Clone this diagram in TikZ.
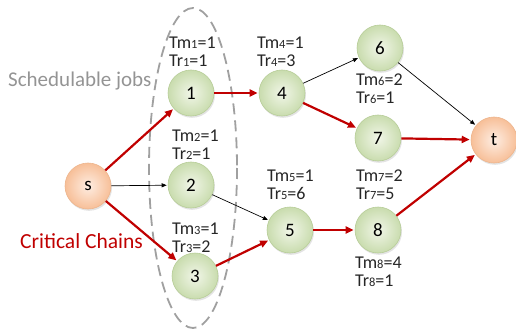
\documentclass[tikz,border=0pt]{standalone}
\usepackage{fontspec}
\setmainfont{Carlito}
\usetikzlibrary{arrows.meta,shadows}
\definecolor{crit}{HTML}{C00000}
\definecolor{ellgray}{HTML}{A0A0A0}
\definecolor{jobin}{HTML}{F1F6E8}
\definecolor{jobout}{HTML}{C9DCAE}
\definecolor{jobline}{HTML}{B7CD98}
\definecolor{endin}{HTML}{FEEDE2}
\definecolor{endout}{HTML}{F7BF98}
\definecolor{endline}{HTML}{EDB58D}
\newcommand{\ix}[1]{{\fontsize{12.5}{13}\selectfont #1}}
\tikzset{
  x=1pt, y=-1pt,
  basecirc/.style={circle, minimum size=46pt, inner sep=0pt, line width=0.6pt,
    font=\fontsize{19}{19}\selectfont,
    drop shadow={opacity=0.22, shadow xshift=1pt, shadow yshift=-1.8pt}},
  job/.style={basecirc, draw=jobline, shading=radial, inner color=jobin, outer color=jobout},
  endpt/.style={basecirc, draw=endline, shading=radial, inner color=endin, outer color=endout},
  crit/.style={draw=crit, line width=2.2pt, -{Triangle[length=8pt,width=7pt]}, shorten >=1pt},
  plain/.style={draw=black, line width=0.7pt, -{Triangle[length=5pt,width=4pt]}, shorten >=1pt},
  tinfo/.style={anchor=north west, inner sep=0pt, align=left,
    font=\fontsize{18}{18}\selectfont, text=black!85}
}
\begin{document}
\begin{tikzpicture}
\useasboundingbox (0,0) rectangle (516,334);

% group of schedulable jobs
\draw[ellgray, line width=1.8pt, dash pattern=on 11pt off 6pt] (193,168) ellipse [x radius=44, y radius=160];

% nodes
\node[endpt] (s) at (88,186) {s};
\node[endpt] (t) at (494,140) {t};
\node[job] (n1) at (191,93) {1};
\node[job] (n2) at (191,185) {2};
\node[job] (n3) at (195,276) {3};
\node[job] (n4) at (282,93) {4};
\node[job] (n5) at (290,230) {5};
\node[job] (n6) at (380,48) {6};
\node[job] (n7) at (378,138) {7};
\node[job] (n8) at (378,230) {8};

% timing labels
\node[tinfo] (l1) at (169,37) {Tm\ix{1}=1\\Tr\ix{1}=1};
\node[tinfo] (l2) at (172,130) {Tm\ix{2}=1\\Tr\ix{2}=1};
\node[tinfo] (l3) at (172,223) {Tm\ix{3}=1\\Tr\ix{3}=2};
\node[tinfo] (l4) at (257,37) {Tm\ix{4}=1\\Tr\ix{4}=3};
\node[tinfo] (l6) at (356,74) {Tm\ix{6}=2\\Tr\ix{6}=1};
\node[tinfo] (l5) at (267,170) {Tm\ix{5}=1\\Tr\ix{5}=6};
\node[tinfo] (l7) at (356,170) {Tm\ix{7}=2\\Tr\ix{7}=5};
\node[tinfo] (l8) at (355,257) {Tm\ix{8}=4\\Tr\ix{8}=1};

% captions
\node[anchor=base west, inner sep=0pt, text=black!42, font=\fontsize{21}{21}\selectfont] (cap1) at (8,87) {Schedulable jobs};
\node[anchor=base west, inner sep=0pt, text=crit, font=\fontsize{21.5}{21.5}\selectfont] (cap2) at (20,248) {Critical Chains};

% critical chain edges
\draw[crit] (s) -- (n1);
\draw[crit] (n1) -- (n4);
\draw[crit] (n4) -- (n7);
\draw[crit] (n7) -- (t);
\draw[crit] (s) -- (n3);
\draw[crit] (n3) -- (n5);
\draw[crit] (n5) -- (n8);
\draw[crit] (n8) -- (t);

% other edges
\draw[plain] (s) -- (n2);
\draw[plain] (n2) -- (n5);
\draw[plain] (n4) -- (n6);
\draw[plain] (n6) -- (t);
\end{tikzpicture}
\end{document}
